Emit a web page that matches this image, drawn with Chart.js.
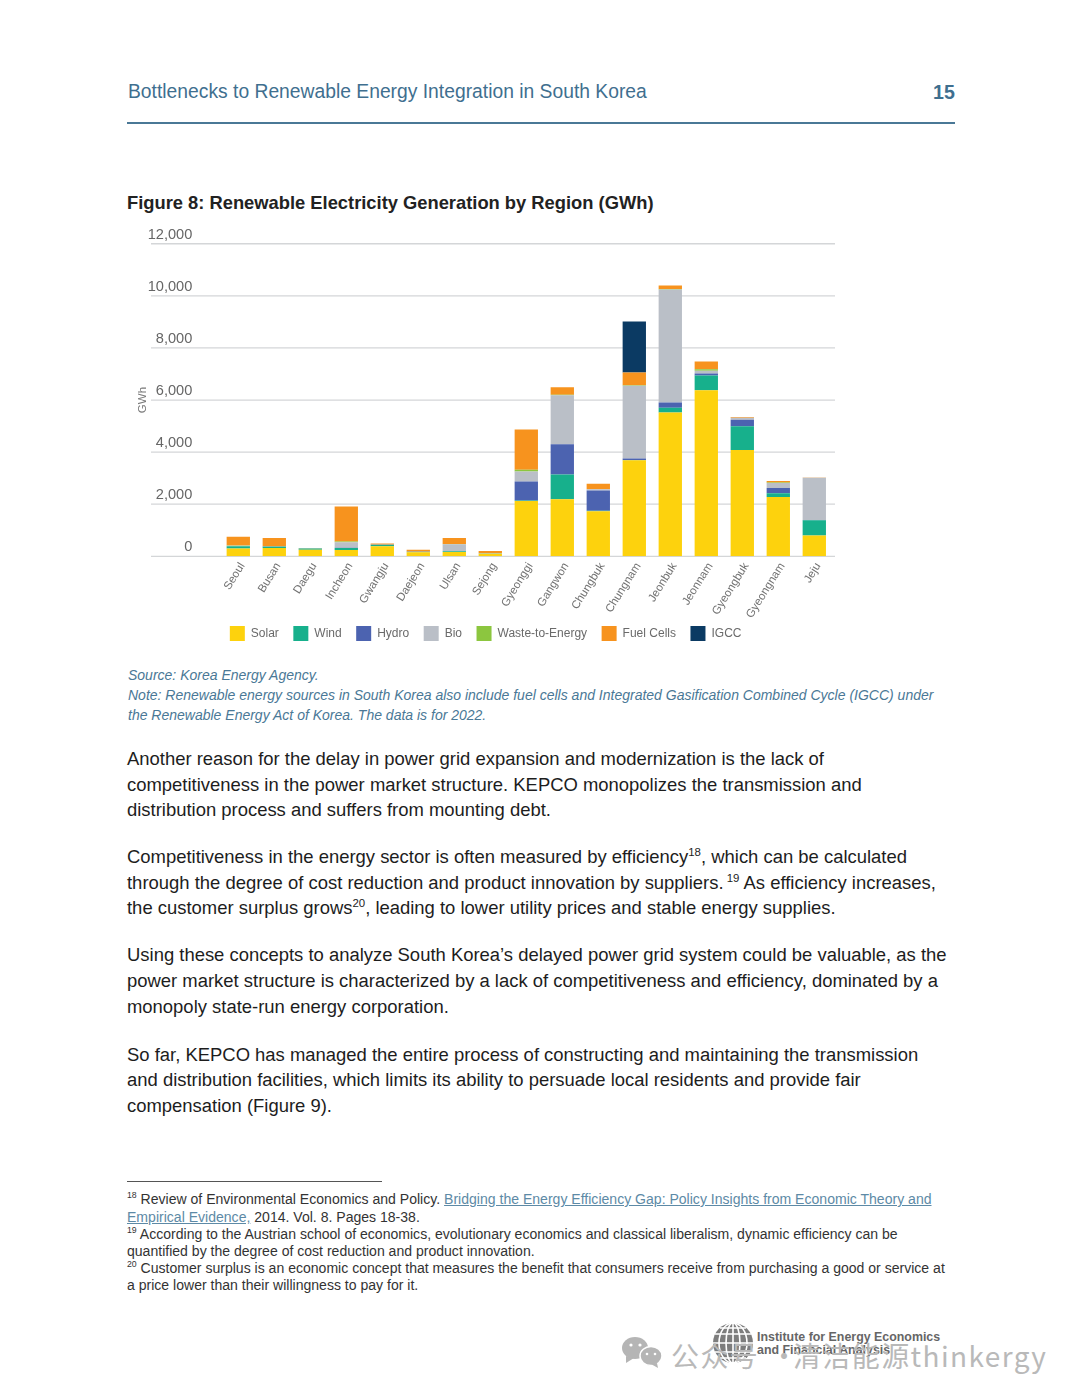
<!DOCTYPE html>
<html>
<head>
<meta charset="utf-8">
<title>Figure 8</title>
<script src="https://cdn.jsdelivr.net/npm/chart.js@4"></script>
<style>
html, body { margin: 0; padding: 0; background: #fff; }
body { position: relative; width: 1080px; height: 1397px; overflow: hidden; font-family: "Liberation Sans", Arial, sans-serif; }
.l { position: absolute; left: 127px; white-space: nowrap; line-height: 20px; }
.head { color: #3f6f8f; font-size: 19.3px; }
.fig { color: #222; font-size: 18.33px; font-weight: bold; }
.src { color: #4a7896; font-size: 14px; font-style: italic; }
.body { color: #1d1d1d; font-size: 18.44px; }
.fn { color: #333; font-size: 14.05px; }
.fn a { color: #5d8aa6; text-decoration: underline; }
sup { font-size: 62%; line-height: 0; }
.rule { position: absolute; }
#wrap { position: absolute; left: 127px; top: 215px; width: 730px; height: 436px; }
.mark { position: absolute; white-space: nowrap; line-height: 16px; }
.wm { position: absolute; white-space: nowrap; top: 1345px; font-size: 28px; line-height: 20px; letter-spacing: 1.4px; color: #b9b9b9; font-family: "Noto Sans CJK SC", sans-serif; }
</style>
</head>
<body>
<div class="l head" style="left:128px;top:82px">Bottlenecks to Renewable Energy Integration in South Korea</div>
<div class="l head" style="left:933px;top:82px;font-weight:bold;font-size:19.6px">15</div>
<div class="rule" style="left:127px;top:122px;width:828px;height:2px;background:#4a7896"></div>

<div class="l fig" style="top:193px">Figure 8: Renewable Electricity Generation by Region (GWh)</div>
<div id="wrap"><canvas id="myChart"></canvas></div>

<div class="l src" style="left:128px;top:665px">Source: Korea Energy Agency.</div>
<div class="l src" style="left:128px;top:685px">Note: Renewable energy sources in South Korea also include fuel cells and Integrated Gasification Combined Cycle (IGCC) under</div>
<div class="l src" style="left:128px;top:705px">the Renewable Energy Act of Korea. The data is for 2022.</div>

<div class="l body" style="top:749px">Another reason for the delay in power grid expansion and modernization is the lack of</div>
<div class="l body" style="top:775px">competitiveness in the power market structure. KEPCO monopolizes the transmission and</div>
<div class="l body" style="top:800px">distribution process and suffers from mounting debt.</div>

<div class="l body" style="top:847px">Competitiveness in the energy sector is often measured by efficiency<sup>18</sup>, which can be calculated</div>
<div class="l body" style="top:873px">through the degree of cost reduction and product innovation by suppliers.<sup> 19</sup> As efficiency increases,</div>
<div class="l body" style="top:898px">the customer surplus grows<sup>20</sup>, leading to lower utility prices and stable energy supplies.</div>

<div class="l body" style="top:945px">Using these concepts to analyze South Korea’s delayed power grid system could be valuable, as the</div>
<div class="l body" style="top:971px">power market structure is characterized by a lack of competitiveness and efficiency, dominated by a</div>
<div class="l body" style="top:997px">monopoly state-run energy corporation.</div>

<div class="l body" style="top:1045px">So far, KEPCO has managed the entire process of constructing and maintaining the transmission</div>
<div class="l body" style="top:1070px">and distribution facilities, which limits its ability to persuade local residents and provide fair</div>
<div class="l body" style="top:1096px">compensation (Figure 9).</div>

<div class="rule" style="left:127px;top:1181px;width:255px;height:1px;background:#555"></div>
<div class="l fn" style="top:1189px"><sup>18</sup> Review of Environmental Economics and Policy. <a>Bridging the Energy Efficiency Gap: Policy Insights from Economic Theory and</a></div>
<div class="l fn" style="top:1207px"><a>Empirical Evidence,</a> 2014. Vol. 8. Pages 18-38.</div>
<div class="l fn" style="top:1224px"><sup>19</sup> According to the Austrian school of economics, evolutionary economics and classical liberalism, dynamic efficiency can be</div>
<div class="l fn" style="top:1241px">quantified by the degree of cost reduction and product innovation.</div>
<div class="l fn" style="top:1258px"><sup>20</sup> Customer surplus is an economic concept that measures the benefit that consumers receive from purchasing a good or service at</div>
<div class="l fn" style="top:1275px">a price lower than their willingness to pay for it.</div>

<!-- logo and watermark at the page foot -->
<svg style="position:absolute;left:620px;top:1320px" width="140" height="50" viewBox="0 0 140 50">
  <g fill="#b5b5b5">
    <ellipse cx="15" cy="28" rx="13" ry="11"/>
    <path d="M6 36 L6 43 L14 38 Z"/>
    <ellipse cx="31" cy="36" rx="11" ry="9.5" stroke="#fff" stroke-width="1.5"/>
    <path d="M37 43 L38 48 L31 44 Z"/>
  </g>
  <g fill="#fff">
    <circle cx="11" cy="25" r="1.6"/><circle cx="20" cy="25" r="1.6"/>
    <circle cx="27" cy="34" r="1.3"/><circle cx="35" cy="34" r="1.3"/>
  </g>
  <circle cx="113" cy="23" r="20" fill="#7d7d7d"/>
  <g fill="none" stroke="#fff" stroke-width="1.6">
    <ellipse cx="113" cy="23" rx="7" ry="20"/><ellipse cx="113" cy="23" rx="14" ry="20"/>
    <path d="M113 3V43M95 14H131M93 23H133M95 32H131M100 8H126M100 38H126"/>
  </g>
</svg>
<div class="mark" style="left:757px;top:1329px;font-size:12.4px;font-weight:bold;color:#666">Institute for Energy Economics</div>
<div class="mark" style="left:757px;top:1342px;font-size:12.4px;font-weight:bold;color:#666">and Financial Analysis</div>
<div class="wm" style="left:671px">公众号</div>
<div class="wm" style="left:770px">·</div>
<div class="wm" style="left:793px">清洁能源thinkergy</div>

<script>
let regions = ["Seoul", "Busan", "Daegu", "Incheon", "Gwangju", "Daejeon", "Ulsan", "Sejong", "Gyeonggi", "Gangwon", "Chungbuk", "Chungnam", "Jeonbuk", "Jeonnam", "Gyeongbuk", "Gyeongnam", "Jeju"];
let solar = [295, 320, 255, 245, 385, 155, 165, 100, 2125, 2190, 1730, 3690, 5520, 6375, 4085, 2280, 795];
let wind = [90, 50, 40, 75, 50, 10, 25, 5, 20, 950, 20, 5, 180, 565, 910, 140, 590];
let hydro = [5, 5, 5, 5, 5, 5, 5, 5, 730, 1165, 780, 60, 205, 80, 245, 205, 5];
let bio = [15, 5, 5, 215, 5, 5, 270, 5, 385, 1880, 40, 2790, 4340, 100, 75, 190, 1625];
let waste = [5, 5, 5, 25, 5, 5, 5, 5, 60, 15, 5, 20, 15, 60, 5, 15, 5];
let fuelCells = [345, 320, 10, 1345, 40, 75, 230, 80, 1550, 295, 215, 490, 140, 295, 25, 65, 5];
let igcc = [0, 0, 0, 0, 0, 0, 0, 0, 0, 0, 0, 1960, 0, 0, 0, 0, 0];
let yTicks = [0, 2000, 4000, 6000, 8000, 10000, 12000];

// gridlines run past the category band on both sides, so they go in by hand off the y scale
const longGrid = {
    id: "longGrid",
    beforeDatasetsDraw(chart) {
        let ctx = chart.ctx;
        let y = chart.scales.y;
        ctx.save();
        ctx.strokeStyle = "#d4d6d8";
        ctx.lineWidth = 1.3;
        y.ticks.forEach((t) => {
            let py = y.getPixelForValue(t.value);
            ctx.beginPath();
            ctx.moveTo(24, py);
            ctx.lineTo(708, py);
            ctx.stroke();
        });
        ctx.restore();
    }
};

function series(label, data, color) {
    return { label: label, data: data, backgroundColor: color, borderWidth: 0, stack: "a", categoryPercentage: 1, barPercentage: 0.648 };
}

new Chart(document.getElementById("myChart"), {
    type: "bar",
    plugins: [longGrid],
    data: {
        labels: regions,
        datasets: [
            series("Solar", solar, "#fdd20d"),
            series("Wind", wind, "#17b08c"),
            series("Hydro", hydro, "#4c63b0"),
            series("Bio", bio, "#babfc7"),
            series("Waste-to-Energy", waste, "#8cc63f"),
            series("Fuel Cells", fuelCells, "#f7931e"),
            series("IGCC", igcc, "#0b3a63")
        ]
    },
    options: {
        responsive: true,
        maintainAspectRatio: false,
        animation: false,
        layout: { autoPadding: false, padding: { top: 8.5, right: 24.7, bottom: 0, left: 12 } },
        plugins: {
            tooltip: { enabled: false },
            legend: {
                position: "bottom",
                labels: { boxWidth: 15, boxHeight: 15, padding: 14.5, color: "#6a6a6a", font: { family: "Liberation Sans", size: 12 } }
            }
        },
        scales: {
            x: {
                stacked: true,
                grid: { display: false },
                border: { display: false },
                ticks: { autoSkip: false, minRotation: 58, maxRotation: 58, color: "#727272", font: { family: "Liberation Sans", size: 11.5 }, padding: -4, labelOffset: 4 },
                // labels hang a little below the axis box, into the gap above the legend
                afterFit(scale) {
                    scale.height = 55.2;
                    scale._computeLabelArea = () => undefined;
                }
            },
            y: {
                stacked: true,
                min: 0,
                max: 12000,
                afterBuildTicks(scale) { scale.ticks = yTicks.map((v) => ({ value: v })); },
                grid: { display: false },
                border: { display: false },
                title: { display: true, text: "GWh", color: "#7a7a7a", font: { family: "Liberation Sans", size: 11.5 }, padding: { top: -3, bottom: 0 } },
                ticks: {
                    color: "#666",
                    font: { family: "Liberation Sans", size: 14.6 },
                    padding: 20,
                    labelOffset: -9,
                    callback: (v) => v.toLocaleString("en-US")
                },
                afterFit(scale) { scale.width = 81.3; }
            }
        }
    }
});
</script>
</body>
</html>
